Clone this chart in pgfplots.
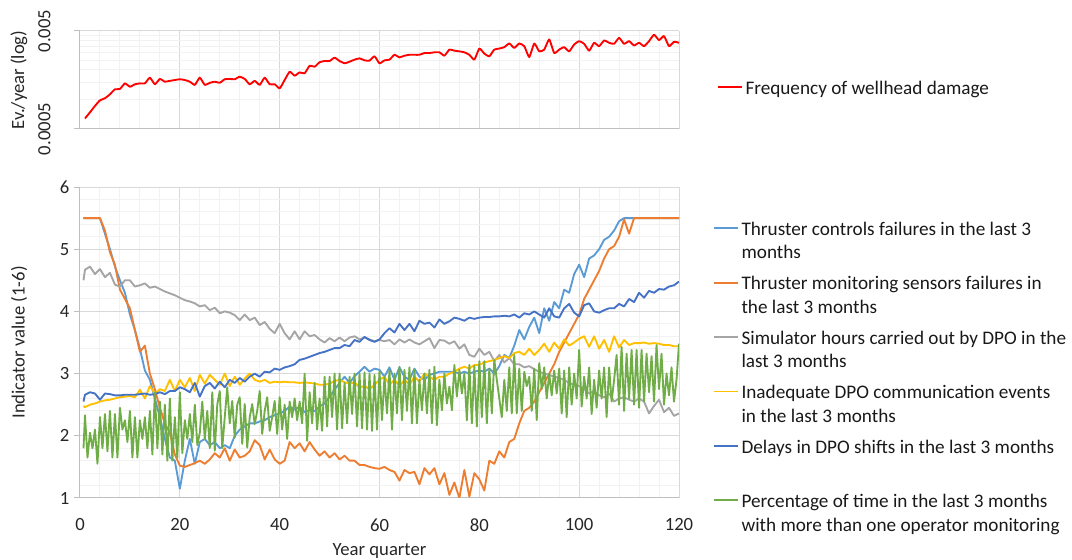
\documentclass[border=0pt]{standalone}
\usepackage{fontspec}
\setmainfont{Carlito}
\usepackage{pgfplots}
\pgfplotsset{compat=1.18}
\usepackage{pgfplotstable}

\definecolor{cLB}{HTML}{5B9BD5}
\definecolor{cOR}{HTML}{ED7D31}
\definecolor{cGR}{HTML}{A5A5A5}
\definecolor{cYE}{HTML}{FFC000}
\definecolor{cDB}{HTML}{4472C4}
\definecolor{cGN}{HTML}{70AD47}
\definecolor{gridmaj}{HTML}{D9D9D9}
\definecolor{gridmin}{HTML}{F2F2F2}
\definecolor{axline}{HTML}{BFBFBF}

\newcommand{\lent}[2]{\begin{tabular}[t]{@{}l@{}}#1\\#2\end{tabular}}

\pgfplotstableread{
x v
1 0.00064
2 0.00074
3 0.00086
4 0.00098
5 0.00103
6 0.00113
7 0.00127
8 0.00128
9 0.00146
10 0.00135
11 0.00143
12 0.00146
13 0.00146
14 0.00167
15 0.00143
16 0.00162
17 0.00152
18 0.00155
19 0.00158
20 0.00161
21 0.00158
22 0.00152
23 0.00141
24 0.00167
25 0.00141
26 0.00148
27 0.00152
28 0.00148
29 0.00161
30 0.00162
31 0.00161
32 0.00171
33 0.00162
34 0.00143
35 0.00155
36 0.00141
37 0.00167
38 0.00143
39 0.00143
40 0.00130
41 0.00158
42 0.00192
43 0.00175
44 0.00189
45 0.00185
46 0.00221
47 0.00216
48 0.00240
49 0.00247
50 0.00247
51 0.00267
52 0.00247
53 0.00234
54 0.00243
55 0.00255
56 0.00263
57 0.00251
58 0.00249
59 0.00276
60 0.00234
61 0.00251
62 0.00255
63 0.00286
64 0.00269
65 0.00280
66 0.00286
67 0.00286
68 0.00286
69 0.00298
70 0.00298
71 0.00303
72 0.00303
73 0.00280
74 0.00323
75 0.00315
76 0.00310
77 0.00303
78 0.00286
79 0.00255
80 0.00331
81 0.00294
82 0.00276
83 0.00323
84 0.00331
85 0.00342
86 0.00373
87 0.00336
88 0.00373
89 0.00350
90 0.00271
91 0.00373
92 0.00310
93 0.00323
94 0.00410
95 0.00298
96 0.00323
97 0.00342
98 0.00310
99 0.00364
100 0.00394
101 0.00370
102 0.00315
103 0.00379
104 0.00350
105 0.00400
106 0.00379
107 0.00370
108 0.00426
109 0.00370
110 0.00394
111 0.00356
112 0.00379
113 0.00350
114 0.00394
115 0.00458
116 0.00404
117 0.00444
118 0.00350
119 0.00388
120 0.00379
}\redtab

\pgfplotstableread{
x lb or gr ye db
0.7 5.5 5.5 4.5 2.48 2.55
1 5.5 5.5 4.67 2.46 2.66
2 5.5 5.5 4.72 2.5 2.7
3 5.5 5.5 4.6 2.52 2.68
4 5.5 5.5 4.68 2.55 2.58
5 5.25 5.3 4.55 2.57 2.68
6 5.0 4.95 4.62 2.58 2.67
7 4.72 4.75 4.43 2.6 2.65
8 4.5 4.35 4.4 2.62 2.65
9 4.3 4.2 4.5 2.63 2.66
10 3.95 4.05 4.5 2.64 2.66
11 3.7 3.7 4.4 2.62 2.66
12 3.4 3.35 4.42 2.74 2.67
13 3.05 3.45 4.45 2.6 2.68
14 2.9 3.0 4.38 2.8 2.66
15 2.6 2.75 4.4 2.68 2.67
16 2.3 2.45 4.36 2.75 2.7
17 1.95 2.2 4.32 2.72 2.67
18 1.65 2.05 4.29 2.9 2.72
19 1.6 1.7 4.26 2.72 2.72
20 1.15 1.52 4.22 2.9 2.78
21 1.6 1.5 4.18 2.78 2.75
22 1.95 1.53 4.16 2.93 2.7
23 1.55 1.56 4.13 2.72 2.85
24 1.9 1.6 4.08 2.98 2.63
25 1.95 1.55 4.1 2.84 2.8
26 1.85 1.62 4.02 2.98 2.85
27 1.9 1.72 4.06 2.9 2.76
28 1.8 1.65 3.97 2.82 2.87
29 1.85 1.8 4.0 3.0 2.78
30 1.8 1.6 3.98 2.8 2.9
31 2.0 1.78 3.94 2.95 2.85
32 2.1 1.65 3.86 2.82 2.93
33 2.15 1.68 3.95 2.92 2.87
34 2.2 1.75 3.86 3.0 2.95
35 2.2 1.93 3.9 2.9 3.0
36 2.23 1.85 3.78 2.87 2.95
37 2.25 1.62 3.83 2.9 3.03
38 2.3 1.78 3.72 2.85 3.02
39 2.33 1.62 3.65 2.87 3.08
40 2.36 1.55 3.8 2.86 3.06
41 2.4 1.6 3.65 2.87 3.1
42 2.47 1.9 3.55 2.86 3.12
43 2.42 1.8 3.68 2.86 3.15
44 2.47 1.88 3.55 2.85 3.22
45 2.38 1.75 3.68 2.86 3.24
46 2.42 1.9 3.6 2.85 3.27
47 2.4 1.78 3.62 2.84 3.3
48 2.47 1.68 3.55 2.82 3.33
49 2.52 1.75 3.5 2.82 3.35
50 2.63 1.65 3.57 2.84 3.38
51 2.74 1.72 3.52 2.88 3.41
52 2.85 1.62 3.58 2.9 3.41
53 2.95 1.68 3.52 2.86 3.46
54 2.85 1.6 3.58 2.84 3.44
55 2.96 1.6 3.6 2.86 3.54
56 3.03 1.53 3.55 2.78 3.51
57 3.11 1.53 3.58 2.8 3.59
58 3.03 1.5 3.55 2.75 3.54
59 3.08 1.48 3.52 2.82 3.51
60 3.06 1.47 3.54 2.9 3.55
61 2.95 1.5 3.52 2.95 3.65
62 3.1 1.45 3.54 2.82 3.73
63 2.9 1.42 3.47 2.9 3.66
64 3.1 1.28 3.55 2.8 3.8
65 2.95 1.45 3.5 2.9 3.7
66 2.9 1.4 3.55 2.82 3.8
67 3.08 1.42 3.5 2.95 3.68
68 2.95 1.22 3.47 2.87 3.85
69 2.9 1.48 3.52 3.0 3.8
70 2.98 1.38 3.57 2.95 3.82
71 3.0 1.48 3.41 2.9 3.74
72 3.03 1.22 3.54 2.95 3.87
73 3.03 1.4 3.53 2.95 3.8
74 3.03 1.05 3.48 3.0 3.84
75 3.03 1.25 3.52 3.03 3.9
76 3.0 1.0 3.4 3.08 3.88
77 3.03 1.45 3.47 3.11 3.85
78 3.0 1.02 3.3 3.08 3.9
79 3.03 1.4 3.27 3.14 3.88
80 3.05 1.3 3.4 3.14 3.9
81 3.03 1.12 3.3 3.18 3.91
82 3.08 1.6 3.35 3.2 3.91
83 3.0 1.55 3.2 3.22 3.92
84 3.12 1.75 3.3 3.25 3.92
85 3.3 1.65 3.18 3.28 3.93
86 3.25 1.9 3.25 3.25 3.92
87 3.45 1.95 3.15 3.33 3.95
88 3.7 2.2 3.15 3.35 3.9
89 3.55 2.4 3.1 3.3 3.97
90 3.75 2.45 3.12 3.4 3.95
91 3.9 2.55 3.07 3.3 4.0
92 3.65 2.7 3.03 3.38 3.95
93 4.05 2.85 3.0 3.48 3.9
94 3.85 3.0 2.98 3.35 4.05
95 4.15 3.15 2.95 3.5 3.92
96 4.05 3.35 2.93 3.4 3.9
97 4.35 3.5 2.9 3.55 4.05
98 4.3 3.65 2.85 3.45 4.12
99 4.6 3.8 2.82 3.5 3.98
100 4.75 3.95 2.8 3.56 3.92
101 4.55 4.2 2.75 3.6 4.1
102 4.85 4.35 2.68 3.43 4.13
103 4.9 4.5 2.72 3.6 4.0
104 5.0 4.65 2.65 3.4 3.98
105 5.15 4.85 2.62 3.54 4.02
106 5.2 5.0 2.68 3.35 4.05
107 5.3 5.05 2.55 3.6 4.05
108 5.45 5.2 2.6 3.42 4.12
109 5.5 5.48 2.62 3.54 4.08
110 5.5 5.25 2.58 3.46 4.2
111 5.5 5.5 2.55 3.49 4.15
112 5.5 5.5 2.6 3.49 4.3
113 5.5 5.5 2.55 3.5 4.22
114 5.5 5.5 2.36 3.48 4.33
115 5.5 5.5 2.48 3.49 4.3
116 5.5 5.5 2.58 3.48 4.36
117 5.5 5.5 2.38 3.46 4.35
118 5.5 5.5 2.45 3.46 4.4
119 5.5 5.5 2.32 3.44 4.42
120 5.5 5.5 2.36 3.44 4.48
}\indtab

\pgfplotstableread{
x v
0.7 1.8
1.0 2.33
1.5 1.65
2.0 2.05
2.5 1.8
3.0 2.1
3.5 1.55
4.0 2.3
4.5 1.8
5.0 2.35
5.5 1.75
6.0 2.4
6.5 1.65
7.0 2.35
7.5 1.65
8.0 2.45
8.5 2.1
9.0 2.25
9.5 1.9
10.0 2.4
10.5 1.65
11.0 2.3
11.5 1.65
12.0 2.25
12.5 1.95
13.0 2.3
13.5 1.8
14.0 2.4
14.5 1.7
15.0 2.7
15.5 1.8
16.0 2.55
16.5 1.7
17.0 2.5
17.5 1.6
18.0 2.6
18.5 1.6
19.0 2.3
19.5 1.65
20.0 2.7
20.5 1.72
21.0 2.25
21.5 1.95
22.0 2.35
22.5 1.9
23.0 2.5
23.5 1.85
24.0 2.05
24.5 2.55
25.0 1.95
25.5 2.4
26.0 1.8
26.5 2.7
27.0 1.76
27.5 2.5
28.0 2.72
28.5 1.8
29.0 2.3
29.5 2.78
30.0 2.2
30.5 2.56
31.0 1.97
31.5 2.5
32.0 2.62
32.5 1.87
33.0 2.51
33.5 1.81
34.0 2.3
34.5 2.51
35.0 2.19
35.5 2.4
36.0 2.72
36.5 2.03
37.0 2.4
37.5 2.62
38.0 2.08
38.5 2.3
39.0 2.56
39.5 2.03
40.0 2.62
40.5 2.1
41.0 2.5
41.5 1.95
42.0 2.55
42.5 2.3
43.0 2.6
43.5 2.25
44.0 2.55
44.5 2.2
45.0 3.0
45.5 1.92
46.0 2.7
46.5 2.2
47.0 2.85
47.5 2.1
48.0 2.6
48.5 2.08
49.0 2.95
49.5 2.15
50.0 2.95
50.5 2.3
51.0 3.0
51.5 2.1
52.0 3.0
52.5 2.12
53.0 2.85
53.5 2.2
54.0 2.95
54.5 2.35
55.0 3.0
55.5 2.15
56.0 3.0
56.5 2.12
57.0 3.02
57.5 2.1
58.0 3.0
58.5 2.08
59.0 2.98
59.5 2.1
60.0 3.05
60.5 2.25
61.0 2.95
61.5 2.36
62.0 3.06
62.5 2.1
63.0 3.0
63.5 2.36
64.0 3.11
64.5 2.25
65.0 3.06
65.5 2.4
66.0 3.1
66.5 2.2
67.0 3.06
67.5 2.2
68.0 2.9
68.5 2.41
69.0 3.0
69.5 2.36
70.0 3.06
70.5 2.2
71.0 3.11
71.5 2.17
72.0 2.9
72.5 2.41
73.0 3.0
73.5 2.52
74.0 2.79
74.5 2.41
75.0 3.14
75.5 2.63
76.0 3.06
76.5 2.68
77.0 3.0
77.5 2.25
78.0 3.14
78.5 2.2
79.0 3.12
79.5 2.15
80.0 3.2
80.5 2.3
81.0 3.2
81.5 2.2
82.0 3.08
82.5 2.36
83.0 3.22
83.5 2.9
84.0 2.6
84.5 2.3
85.0 2.9
85.5 2.4
86.0 3.1
86.5 2.36
87.0 3.3
87.5 2.36
88.0 3.08
88.5 2.4
89.0 3.03
89.5 2.8
90.0 2.95
90.5 2.4
91.0 3.08
91.5 2.25
92.0 3.17
92.5 2.75
93.0 3.1
93.5 2.6
94.0 3.0
94.5 2.65
95.0 3.05
95.5 2.68
96.0 3.08
96.5 2.36
97.0 3.05
97.5 2.3
98.0 3.1
98.5 2.5
99.0 3.0
99.5 2.6
100.0 3.38
100.5 2.47
101.0 2.95
101.5 2.6
102.0 3.1
102.5 2.35
103.0 2.9
103.5 2.45
104.0 3.05
104.5 2.6
105.0 3.1
105.5 2.3
106.0 3.1
106.5 2.55
107.0 2.9
107.5 3.3
108.0 2.5
108.5 3.43
109.0 2.4
109.5 3.32
110.0 2.6
110.5 3.38
111.0 2.5
111.5 3.38
112.0 2.45
112.5 3.38
113.0 2.55
113.5 3.32
114.0 2.7
114.5 3.28
115.0 2.55
115.5 3.46
116.0 2.75
116.5 3.32
117.0 2.5
117.5 3.0
118.0 2.65
118.5 3.1
119.0 2.55
119.5 2.9
120.0 3.48
}\greentab

\pgfplotsset{
  base/.style={
    scale only axis, width=449.25pt,
    xmin=0, xmax=120,
    axis lines*=left,
    axis line style={axline, line width=0.75pt},
    grid=both,
    major grid style={gridmaj, line width=0.75pt},
    minor grid style={gridmin, line width=0.75pt},
    xtick={0,20,...,120}, minor x tick num=4,
    tick align=outside, major tick length=4.5pt, minor tick length=0pt,
    xtick style={draw=none},
    ytick style={axline, line width=0.75pt},
    /pgf/number format/assume math mode=true,
    tick label style={font=\fontsize{14}{17}\selectfont, text=black!85},
    xticklabel style={yshift=-7.5pt},
    label style={font=\fontsize{14}{17}\selectfont, text=black!85},
    every axis y label/.style={at={(axis description cs:-0.1018,0.5)}, rotate=90, anchor=center,
      font=\fontsize{14}{17}\selectfont, text=black!85},
    legend cell align=left,
    legend style={draw=none, fill=none, inner sep=0pt, outer sep=0pt,
      font=\fontsize{14.4}{17.6}\selectfont, text=black!90,
      nodes={inner sep=0pt, outer sep=0pt}, column sep=2pt, row sep=27pt},
    legend image code/.code={\draw[##1] (0pt,0pt) -- (18pt,0pt);},
  }
}

\begin{document}
\begin{tikzpicture}
\path[use as bounding box] (-60pt,-46.5pt) rectangle (744pt,373.5pt);

\begin{axis}[base,
  at={(0pt,276.75pt)}, anchor=south west,
  height=73.5pt,
  ymode=log, ymin=0.0005, ymax=0.005,
  ytick={0.0005,0.005}, yticklabels={0.0005,0.005},
  minor ytick={0.001,0.0015,0.002,0.0025,0.003,0.0035,0.004,0.0045},
  xticklabels={},
  yticklabel style={xshift=-14pt, rotate=90, anchor=south},
  ylabel={Ev./year (log)},
  legend style={at={(1.0634,0.519)}, anchor=north west},
]
\addplot[red, line width=1.4pt, line join=round, smooth, tension=0.3] table[x=x,y=v] {\redtab};
\addlegendentry{\begin{tabular}[t]{@{}l@{}}Frequency of wellhead damage\end{tabular}}
\end{axis}

\begin{axis}[base,
  at={(0pt,0pt)}, anchor=south west,
  height=233.25pt,
  ymin=1, ymax=6, ytick={1,2,3,4,5,6}, minor y tick num=4,
  xlabel={Year quarter}, ylabel={Indicator value (1-6)},
  xlabel style={at={(axis description cs:0.5,-0.1705)}, anchor=center},
  legend style={at={(1.0568,0.897)}, anchor=north west},
]
\addplot[cLB, line width=1.4pt, line join=round] table[x=x,y=lb] {\indtab};
\addlegendentry{\lent{Thruster controls failures in the last 3}{months}}
\addplot[cOR, line width=1.4pt, line join=round] table[x=x,y=or] {\indtab};
\addlegendentry{\lent{Thruster monitoring sensors failures in}{the last 3 months}}
\addplot[cGR, line width=1.4pt, line join=round] table[x=x,y=gr] {\indtab};
\addlegendentry{\lent{Simulator hours carried out by DPO in the}{last 3 months}}
\addplot[cYE, line width=1.4pt, line join=round] table[x=x,y=ye] {\indtab};
\addlegendentry{\lent{Inadequate DPO communication events}{in the last 3 months}}
\addplot[cDB, line width=1.4pt, line join=round] table[x=x,y=db] {\indtab};
\addlegendentry{\lent{Delays in DPO shifts in the last 3 months}{}}
\addplot[cGN, line width=1.4pt, line join=round] table[x=x,y=v] {\greentab};
\addlegendentry{\lent{Percentage of time in the last 3 months}{with more than one operator monitoring}}
\end{axis}
\end{tikzpicture}
\end{document}
